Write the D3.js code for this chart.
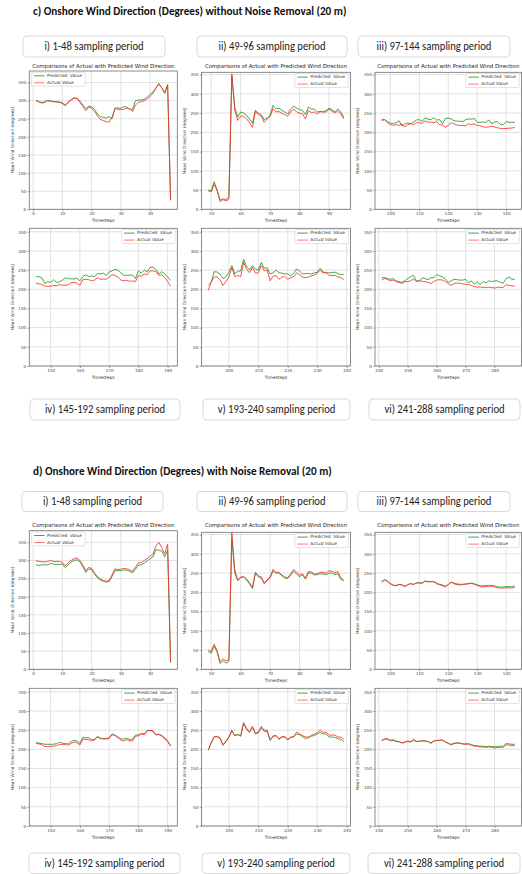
<!DOCTYPE html>
<html>
<head>
<meta charset="utf-8">
<script src="https://cdn.jsdelivr.net/npm/d3@7"></script>
<style>
  body { margin: 0; background: #fff; }
  svg { display: block; }
</style>
</head>
<body>
<div id="chart"></div>
<script>
// ---- data ----
var yTicks = [0, 50, 100, 150, 200, 250, 300, 350];
var periodStarts = [1, 49, 97, 145, 193, 241];
var periodLabels = [
  "i) 1-48 sampling period", "ii) 49-96 sampling period", "iii) 97-144 sampling period",
  "iv) 145-192 sampling period", "v) 193-240 sampling period", "vi) 241-288 sampling period"
];
var sectionTitles = [
  "c) Onshore Wind Direction (Degrees) without Noise Removal (20 m)",
  "d) Onshore Wind Direction (Degrees) with Noise Removal (20 m)"
];
var chartTitle = "Comparisons of Actual with Predicted Wind Direction";
var legendLabels = ["Predicted  Value", "Actual Value"];
var xLabel = "Timesteps";
var yLabel = "Mean Wind Direction (degrees)";

// c) without noise removal
var cPred1 = [302,297,293,296,301,299,298,297,296,294, 288,296,303,308,307,299,288,278,285,283,
  276,263,256,254,252,256,250,280,280,279, 284,282,277,276,300,302,302,304,310,318, 324,335,345,336,322,343,25];
var cAct1 = [300,297,295,297,300,298,297,296,296,292, 286,295,302,307,306,296,285,272,282,279,
  270,258,248,245,242,241,255,278,276,276, 276,280,277,270,288,296,297,300,305,312, 320,335,348,335,320,345,25];
var cPred2 = [50,48,72,50,24,27,25,32,345,265, 240,253,250,244,235,224,257,250,246,233,
  237,244,270,261,263,257,253,248,261,268, 263,259,257,246,266,260,261,253,254,253, 257,263,259,253,261,253,240];
var cAct2 = [48,45,65,48,20,25,22,26,352,257, 231,242,242,235,225,213,255,246,242,226,
  235,241,261,253,254,250,246,242,253,261, 253,250,248,235,257,251,253,248,254,253, 253,260,255,251,255,248,235];
var cPred3 = [234,233,228,224,223,225,230,216,222,224, 223,226,232,233,228,238,234,233,238,232,
  233,222,236,237,235,230,229,229,228,233, 235,234,236,226,226,227,226,232,222,227, 228,221,220,228,226,226,226];
var cAct3 = [230,233,225,220,218,220,218,222,214,220, 222,220,225,225,223,230,226,227,225,228,
  220,219,213,218,225,222,219,218,218,217, 222,220,222,218,217,215,213,214,216,214, 212,210,210,210,211,211,213];
var cPred4 = [233,233,230,215,220,218,225,218,219,224, 230,228,227,227,229,222,233,238,233,235,
  233,241,240,242,236,245,248,252,250,243, 237,236,237,237,228,248,242,250,245,257, 258,252,240,246,240,232,223];
var cAct4 = [216,214,213,208,208,208,210,209,212,211, 210,212,217,218,216,210,225,226,225,222,
  224,230,226,227,226,232,238,236,232,224, 222,223,221,222,220,236,234,240,238,248, 248,246,236,238,230,220,208];
var cPred5 = [210,218,246,245,240,228,232,245,262,240, 247,248,278,260,250,262,253,250,270,255,
  256,240,243,250,243,242,240,240,235,242, 253,248,240,241,241,240,243,244,255,245, 243,243,243,245,241,238,239];
var cAct5 = [197,220,232,232,225,210,220,232,256,233, 236,233,270,252,243,257,242,243,262,248,
  250,222,234,236,226,232,233,226,230,233, 243,238,232,230,232,235,237,242,250,242, 245,236,236,236,232,230,225];
var cPred6 = [230,231,228,226,228,222,220,218,222,228, 233,236,222,222,230,228,225,230,230,238,
  235,232,227,218,222,226,225,224,224,226, 217,222,213,220,212,220,217,222,220,222, 222,218,216,228,232,226,226];
var cAct6 = [224,228,226,222,224,220,218,215,220,220, 222,227,220,222,221,220,218,215,220,224,
  225,224,220,215,210,215,216,216,214,213, 212,210,207,206,206,205,205,205,205,203, 205,205,205,212,210,209,208];

// d) with noise removal
var dPred1 = [288,286,288,288,288,292,290,289,289,290, 280,288,295,300,302,296,283,267,277,275,
  262,252,246,243,240,242,256,272,272,272, 274,273,270,266,276,287,288,293,298,305, 310,330,328,326,310,328,18];
var dAct1 = [300,297,296,296,297,300,297,297,297,295, 285,294,300,305,307,300,288,272,281,278,
  266,255,249,245,243,245,260,277,275,276, 278,277,274,270,282,293,294,300,305,312, 318,340,350,335,318,345,20];
var dPred2 = [46,42,60,45,15,22,16,20,340,250, 230,238,240,232,222,210,250,240,237,222,
  230,238,255,250,250,243,237,236,245,255, 248,240,246,234,250,250,245,246,248,248, 246,250,250,246,248,234,230];
var dAct2 = [50,46,65,48,20,27,22,25,355,258, 232,240,241,235,225,212,252,243,240,225,
  232,240,260,252,252,245,240,238,248,260, 252,245,248,237,254,253,248,248,252,252, 250,256,255,250,254,238,232];
var dPred3 = [226,232,230,223,218,217,220,219,216,220, 223,221,224,225,224,229,228,228,228,224,
  221,219,216,220,226,224,222,221,221,222, 223,224,222,220,217,217,217,218,218,217, 214,214,214,215,215,214,217];
var dAct3 = [228,233,228,222,219,218,221,220,214,220, 222,220,225,224,224,230,227,228,227,222,
  220,217,214,220,227,222,220,219,220,221, 222,223,221,218,215,214,215,216,216,214, 212,211,211,212,212,211,213];
var dPred4 = [218,216,215,213,213,213,213,215,218,216, 215,214,220,224,222,215,231,230,230,225,
  226,234,229,228,228,230,240,237,232,227, 227,229,226,226,237,237,241,240,249,249, 247,237,240,236,230,222,210];
var dAct4 = [216,214,212,207,207,208,208,210,212,213, 212,211,215,219,217,211,226,226,225,222,
  224,232,228,227,227,228,238,236,230,224, 222,225,222,222,234,235,240,238,248,249, 248,238,238,234,228,220,208];
var dPred5 = [198,216,232,233,228,210,220,230,248,236, 239,234,267,252,244,257,240,243,256,246,
  247,223,233,236,226,232,232,224,231,232, 240,238,233,228,230,234,236,240,244,240, 240,232,232,231,228,226,220];
var dAct5 = [198,218,233,234,230,212,222,232,250,235, 238,235,270,255,245,260,242,245,260,250,
  250,224,235,236,227,233,233,226,232,233, 245,240,236,232,232,236,240,243,250,244, 245,237,237,237,232,232,226];
var dPred6 = [224,226,226,222,223,220,220,217,219,220, 219,223,220,221,222,222,220,217,221,223,
  224,224,220,216,213,216,216,216,214,214, 215,212,210,209,208,208,207,208,207,207, 207,208,208,215,214,213,213];
var dAct6 = [222,227,228,224,225,221,220,216,218,222, 220,226,221,221,222,221,220,215,222,223,
  223,224,219,215,211,215,217,216,214,213, 213,210,208,208,206,206,205,206,205,203, 205,205,205,212,211,210,209];

// ---- layout ----
var width = 522, height = 874;
var predColor = "#2f9f2f", actColor = "#ff2626";
var cols = [{ x0: 29.3, x1: 177.3 }, { x0: 201.5, x1: 350.5 }, { x0: 375, x1: 521.5 }];
// the "i)" chart in each section came out of a slightly shorter picture
var rows = [
  { top: 72.3, bottom: 209.3, ymax: 356, firstTop: 71, firstMax: 382, title: 66.5 },
  { top: 228.3, bottom: 366, ymax: 359 },
  { top: 532.3, bottom: 669.3, ymax: 356, firstTop: 530.7, firstMax: 382, title: 526 },
  { top: 688.3, bottom: 826, ymax: 359 }
];
var boxes = [
  [{ x: 23, y: 36, w: 142, h: 21 }, { x: 197, y: 36, w: 150, h: 21 }, { x: 358, y: 36, w: 152, h: 21 }],
  [{ x: 30, y: 399, w: 150, h: 21 }, { x: 203, y: 399, w: 147, h: 21 }, { x: 369, y: 399, w: 151, h: 21 }],
  [{ x: 22, y: 491.5, w: 141, h: 20 }, { x: 197, y: 491.5, w: 150, h: 20 }, { x: 358, y: 491.5, w: 152, h: 20 }],
  [{ x: 29, y: 853, w: 151, h: 20.5 }, { x: 202, y: 853, w: 148, h: 20.5 }, { x: 368, y: 853, w: 152, h: 20.5 }]
];

var series = [
  [cPred1, cAct1], [cPred2, cAct2], [cPred3, cAct3], [cPred4, cAct4], [cPred5, cAct5], [cPred6, cAct6],
  [dPred1, dAct1], [dPred2, dAct2], [dPred3, dAct3], [dPred4, dAct4], [dPred5, dAct5], [dPred6, dAct6]
];

var svg = d3.select("#chart").append("svg")
  .attr("width", width).attr("height", height)
  .attr("font-family", "'DejaVu Sans', sans-serif");

// section headings
var titleNodes = svg.selectAll(".secTitle")
  .data(sectionTitles)
  .enter()
  .append("text")
  .attr("class", "secTitle")
  .attr("x", 33)
  .attr("y", function (d, i) { return i === 0 ? 12 : 472; })
  .attr("dominant-baseline", "middle")
  .attr("font-family", "Carlito, Lato, sans-serif")
  .attr("font-weight", "bold")
  .attr("font-size", 11)
  .attr("fill", "#111")
  .text(function (d) { return d; });
// squeeze to the narrow face of the original ("...without Noi" ends at x=261)
var first = titleNodes.node();
var squeeze = 228 / first.getSubStringLength(0, 47);
titleNodes.each(function () {
  var len = this.getComputedTextLength();
  d3.select(this).attr("textLength", len * squeeze).attr("lengthAdjust", "spacingAndGlyphs");
});

// sampling period boxes
boxes.forEach(function (row, r) {
  row.forEach(function (b, c) {
    var label = periodLabels[(r % 2) * 3 + c];
    var g = svg.append("g");
    g.append("rect")
      .attr("x", b.x).attr("y", b.y)
      .attr("width", b.w).attr("height", b.h)
      .attr("rx", 4)
      .attr("fill", "#fff")
      .attr("stroke", "#d4d4d4")
      .attr("stroke-width", 0.9);
    var t = g.append("text")
      .attr("x", b.x + b.w / 2)
      .attr("y", b.y + b.h / 2 + 0.5)
      .attr("text-anchor", "middle")
      .attr("dominant-baseline", "middle")
      .attr("font-family", "Carlito, Lato, sans-serif")
      .attr("font-size", 12)
      .attr("fill", "#222")
      .text(label);
    var len = t.node().getComputedTextLength();
    t.attr("textLength", len * 0.885).attr("lengthAdjust", "spacingAndGlyphs");
  });
});

// one small matplotlib-like panel
function drawPanel(idx) {
  var sec = Math.floor(idx / 6), k = idx % 6;
  var r = sec * 2 + Math.floor(k / 3), c = k % 3;
  var row = rows[r], col = cols[c];
  var top = (c === 0 && row.firstTop) ? row.firstTop : row.top;
  var ymax = (c === 0 && row.firstMax) ? row.firstMax : row.ymax;
  var start = periodStarts[k];
  var pred = series[idx][0], act = series[idx][1];

  var n = pred.length;
  var span = n - 1;
  var x = d3.scaleLinear()
    .domain([start - 0.05 * span, start + span + 0.05 * span])
    .range([col.x0, col.x1]);
  var y = d3.scaleLinear().domain([0, ymax]).range([row.bottom, top]);

  var g = svg.append("g");

  // grid
  var xt = x.ticks(5);
  g.selectAll(".gx").data(xt).enter().append("line")
    .attr("x1", function (d) { return x(d); }).attr("x2", function (d) { return x(d); })
    .attr("y1", top).attr("y2", row.bottom)
    .attr("stroke", "#d9d9d9").attr("stroke-width", 0.8);
  g.selectAll(".gy").data(yTicks).enter().append("line")
    .attr("x1", col.x0).attr("x2", col.x1)
    .attr("y1", function (d) { return y(d); }).attr("y2", function (d) { return y(d); })
    .attr("stroke", "#d9d9d9").attr("stroke-width", 0.8);

  // axes
  var ax = g.append("g")
    .attr("transform", "translate(0," + row.bottom + ")")
    .call(d3.axisBottom(x).tickValues(xt).tickSize(2).tickPadding(1.2).tickFormat(d3.format("d")));
  var ay = g.append("g")
    .attr("transform", "translate(" + col.x0 + ",0)")
    .call(d3.axisLeft(y).tickValues(yTicks).tickSize(2).tickPadding(1.2));
  [ax, ay].forEach(function (a) {
    a.select(".domain").remove();
    a.selectAll("line").attr("stroke", "#666").attr("stroke-width", 0.6);
    a.selectAll("text").attr("font-size", 4.1).attr("fill", "#444").attr("font-family", "'DejaVu Sans', sans-serif");
  });

  // frame
  g.append("rect")
    .attr("x", col.x0).attr("y", top)
    .attr("width", col.x1 - col.x0).attr("height", row.bottom - top)
    .attr("fill", "none").attr("stroke", "#6f6f6f").attr("stroke-width", 0.8);

  // lines
  var line = d3.line()
    .x(function (d, i) { return x(start + i); })
    .y(function (d) { return y(d); });
  g.append("path").datum(pred)
    .attr("d", line).attr("fill", "none")
    .attr("stroke", predColor).attr("stroke-width", 0.9).attr("stroke-linejoin", "round");
  g.append("path").datum(act)
    .attr("d", line).attr("fill", "none")
    .attr("stroke", actColor).attr("stroke-width", 0.9).attr("stroke-opacity", 0.9).attr("stroke-linejoin", "round");

  // labels
  var cx = (col.x0 + col.x1) / 2;
  g.append("text")
    .attr("x", cx).attr("y", row.bottom + 11.5)
    .attr("text-anchor", "middle").attr("dominant-baseline", "middle")
    .attr("font-size", 4.4).attr("fill", "#333")
    .text(xLabel);
  g.append("text")
    .attr("transform", "translate(" + (col.x0 - 16.8) + "," + (top + row.bottom) / 2 + ") rotate(-90)")
    .attr("text-anchor", "middle").attr("dominant-baseline", "middle")
    .attr("font-size", 4.3).attr("fill", "#333")
    .text(yLabel);
  if (row.title) {
    g.append("text")
      .attr("x", cx).attr("y", row.title)
      .attr("text-anchor", "middle").attr("dominant-baseline", "middle")
      .attr("font-size", 5.4).attr("fill", "#222")
      .text(chartTitle);
  }

  // legend: upper left for the first period, upper right otherwise
  var lw = 53.5, lh = 14;
  var lx = (k === 0) ? col.x0 + 2.3 : col.x1 - lw - 2.2;
  var ly = top + 1.2;
  var lg = g.append("g");
  lg.append("rect")
    .attr("x", lx).attr("y", ly).attr("width", lw).attr("height", lh)
    .attr("rx", 1.2).attr("fill", "#fff").attr("fill-opacity", 0.85)
    .attr("stroke", "#d0d0d0").attr("stroke-width", 0.6);
  [predColor, actColor].forEach(function (col2, j) {
    var yy = ly + 3.6 + j * 7;
    lg.append("line")
      .attr("x1", lx + 2.5).attr("x2", lx + 13)
      .attr("y1", yy).attr("y2", yy)
      .attr("stroke", col2).attr("stroke-width", 0.9)
      .attr("stroke-opacity", j === 1 ? 0.7 : 1);
    lg.append("text")
      .attr("x", lx + 15.5).attr("y", yy)
      .attr("dominant-baseline", "middle")
      .attr("font-size", 4.3).attr("fill", "#333")
      .style("white-space", "pre")
      .text(legendLabels[j]);
  });
}

for (var i = 0; i < 12; i++) drawPanel(i);
</script>
</body>
</html>
